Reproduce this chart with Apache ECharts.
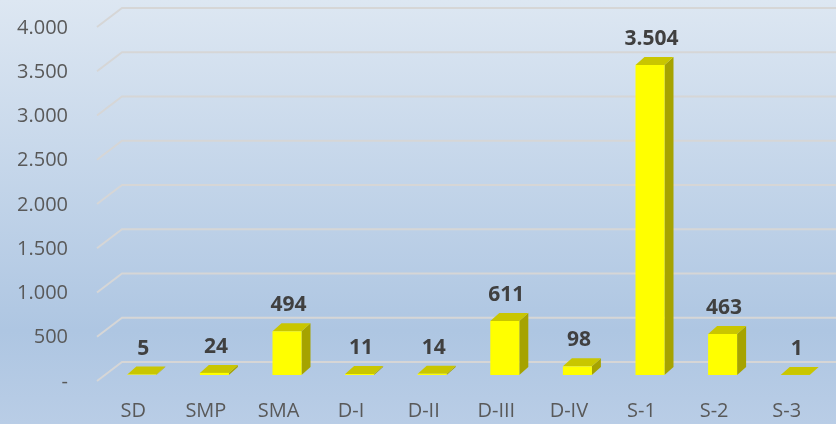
<!DOCTYPE html>
<html>
<head>
<meta charset="utf-8">
<script src="https://cdn.jsdelivr.net/npm/echarts@6/dist/echarts.min.js"></script>
<style>
  html, body { margin: 0; padding: 0; }
  #chart { width: 836px; height: 424px; }
</style>
</head>
<body>
<div id="chart"></div>
<script>
var categories = ["SD", "SMP", "SMA", "D-I", "D-II", "D-III", "D-IV", "S-1", "S-2", "S-3"];
var counts = [5, 24, 494, 11, 14, 611, 98, 3504, 463, 1];
var yTicks = [0, 500, 1000, 1500, 2000, 2500, 3000, 3500, 4000];

var myChart = echarts.init(document.getElementById("chart"));

// fake 3d: depth of the bars and of the back wall
var DX = 9, DY = -8;

function formatNum(v) {
  if (v === 0) return "-";
  return String(v).replace(/\B(?=(\d{3})+(?!\d))/g, ".");
}

function renderGrid(params, api) {
  var y = api.coord([0, api.value(1)])[1];
  var cs = params.coordSys;
  return {
    type: "polyline",
    shape: {
      points: [
        [cs.x, y + 6],
        [cs.x + 25, y - 13],
        [cs.x + cs.width + 40, y - 13],
      ],
    },
    style: { stroke: "#d6d6d6", lineWidth: 2, fill: null },
    silent: true,
  };
}

function renderBar(params, api) {
  var top = api.coord([api.value(0), api.value(1)]);
  var base = api.coord([api.value(0), 0]);
  var left = top[0] - 6;
  var right = top[0] + 23;
  var t = top[1], b = base[1];
  return {
    type: "group",
    children: [
      {
        type: "polygon",
        shape: { points: [[right, t], [right + DX, t + DY], [right + DX, b + DY], [right, b]] },
        style: { fill: "#a6a300" },
      },
      {
        type: "polygon",
        shape: { points: [[left, t], [left + DX, t + DY], [right + DX, t + DY], [right, t]] },
        style: { fill: "#c9c600" },
      },
      {
        type: "rect",
        shape: { x: left, y: t, width: right - left, height: b - t },
        style: { fill: "#ffff00" },
      },
      {
        type: "text",
        x: top[0] + 10,
        y: t - 26,
        style: {
          text: formatNum(api.value(1)),
          font: "bold 21px 'Open Sans'",
          fill: "#404040",
          align: "center",
          verticalAlign: "middle",
        },
      },
    ],
  };
}

var option = {
  backgroundColor: {
    type: "linear",
    x: 0, y: 0, x2: 0, y2: 1,
    colorStops: [
      { offset: 0, color: "#dde7f2" },
      { offset: 0.78, color: "#aec6e2" },
      { offset: 1, color: "#b9cde6" },
    ],
  },
  textStyle: { fontFamily: "Open Sans" },
  grid: [
    { left: 97, right: 13, top: 28, bottom: 42 },
    { left: 97, right: 13, top: 21, bottom: 49 },
  ],
  xAxis: [
    {
      gridIndex: 0,
      type: "category",
      data: categories,
      show: false,
    },
    {
      gridIndex: 1,
      type: "category",
      data: categories,
      axisLine: { show: false },
      axisTick: { show: false },
      axisLabel: { color: "#595959", fontSize: 20, margin: 26 },
    },
  ],
  yAxis: [
    {
      gridIndex: 0,
      type: "value",
      min: 0,
      max: 4000,
      interval: 500,
      axisLine: { show: false },
      axisTick: { show: false },
      splitLine: { show: false },
      axisLabel: { color: "#595959", fontSize: 20, margin: 29, formatter: formatNum },
    },
    {
      gridIndex: 1,
      type: "value",
      min: 0,
      max: 4000,
      interval: 500,
      show: false,
      splitLine: { show: false },
    },
  ],
  series: [
    {
      type: "custom",
      xAxisIndex: 1,
      yAxisIndex: 1,
      renderItem: renderGrid,
      data: yTicks.map(function (v) { return [0, v]; }),
      z: 1,
      silent: true,
    },
    {
      type: "custom",
      xAxisIndex: 1,
      yAxisIndex: 1,
      renderItem: renderBar,
      encode: { x: 0, y: 1 },
      data: counts.map(function (v, i) { return [i, v]; }),
      z: 5,
    },
  ],
};

myChart.setOption(option);
</script>
</body>
</html>
